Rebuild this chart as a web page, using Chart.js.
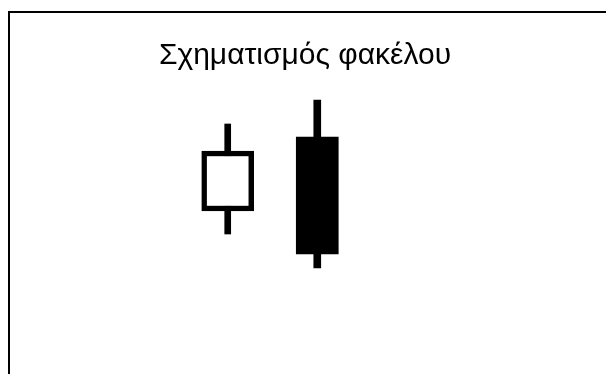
<!DOCTYPE html>
<html>
<head>
<meta charset="utf-8">
<script src="https://cdn.jsdelivr.net/npm/chart.js@4/dist/chart.umd.min.js"></script>
<style>
  html, body { margin: 0; padding: 0; background: #ffffff; }
  #c { display: block; }
</style>
</head>
<body>
<canvas id="c" width="606" height="374"></canvas>
<script>
// ---- data ----
const titleText = 'Σχηματισμός φακέλου';
const categories = ['Ανοδικό κερί', 'Καθοδικό κερί'];
const xPositions = [1, 2];
const opens  = [39.5, 76.5];
const closes = [69.5, 18];
const highs  = [83, 95];
const lows   = [28, 11];

// ---- styling ----
const bodyWidths = [52, 42];
const wickWidths = [6, 7];

const datasets = [];
categories.forEach((name, i) => {
  const bullish = closes[i] >= opens[i];
  datasets.push({
    label: name,
    data: [{ x: xPositions[i], y: [opens[i], closes[i]] }],
    backgroundColor: bullish ? '#ffffff' : '#000000',
    borderColor: '#000000',
    borderWidth: bullish ? 5.5 : 0,
    borderSkipped: false,
    barThickness: bodyWidths[i],
    grouped: false,
    order: 0
  });
  datasets.push({
    label: name + ' (σκιά)',
    data: [{ x: xPositions[i], y: [lows[i], highs[i]] }],
    backgroundColor: '#000000',
    borderWidth: 0,
    barThickness: wickWidths[i],
    grouped: false,
    order: 1
  });
});

const framePlugin = {
  id: 'frame',
  afterDraw(chart) {
    const ctx = chart.ctx;
    ctx.save();
    ctx.fillStyle = '#000000';
    ctx.fillRect(8, 11, chart.width, 2);
    ctx.fillRect(8, 11, 2, chart.height);
    ctx.restore();
  }
};

new Chart(document.getElementById('c'), {
  type: 'bar',
  data: { datasets },
  options: {
    responsive: false,
    animation: false,
    devicePixelRatio: 1,
    layout: { padding: { left: 5, right: 1, top: 0, bottom: 84 } },
    scales: {
      x: { type: 'linear', min: -1.487, max: 5.213, offset: false, display: false },
      y: { type: 'linear', min: 0, max: 100, display: false }
    },
    plugins: {
      legend: { display: false },
      tooltip: { enabled: false },
      title: {
        display: true,
        text: titleText,
        color: '#000000',
        font: { family: '"Liberation Sans", Arial, sans-serif', size: 30, weight: 'normal' },
        padding: { top: 38, bottom: 16 }
      }
    }
  },
  plugins: [framePlugin]
});
</script>
</body>
</html>
